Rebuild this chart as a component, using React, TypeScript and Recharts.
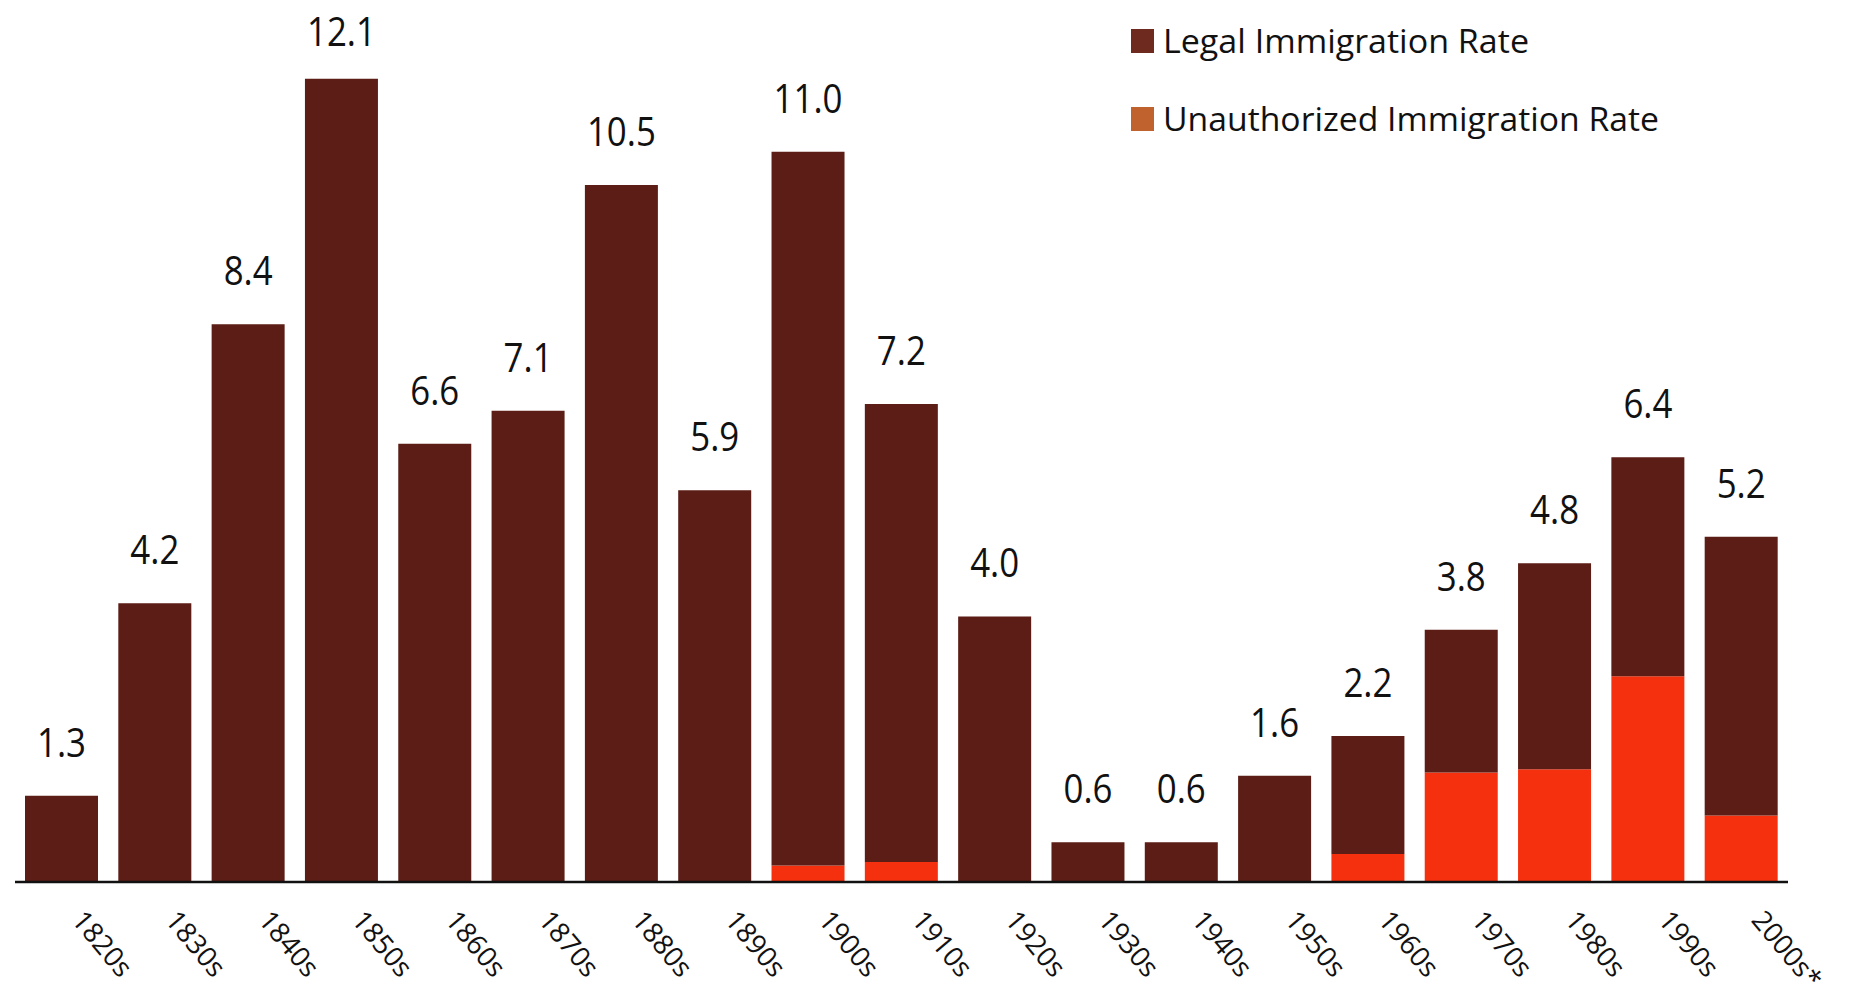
import React from 'react';
import { BarChart, Bar, XAxis, YAxis, LabelList, Legend } from 'recharts';

const decades = [
  '1820s', '1830s', '1840s', '1850s', '1860s', '1870s', '1880s', '1890s', '1900s', '1910s',
  '1920s', '1930s', '1940s', '1950s', '1960s', '1970s', '1980s', '1990s', '2000s*',
];
const totalRate = [1.3, 4.2, 8.4, 12.1, 6.6, 7.1, 10.5, 5.9, 11.0, 7.2, 4.0, 0.6, 0.6, 1.6, 2.2, 3.8, 4.8, 6.4, 5.2];
const unauthorizedRate = [0, 0, 0, 0, 0, 0, 0, 0, 0.25, 0.3, 0, 0, 0, 0, 0.42, 1.65, 1.7, 3.1, 1.0];
const legendLabels = ['Legal Immigration Rate', 'Unauthorized Immigration Rate'];

const data = decades.map((d, i) => ({
  decade: d,
  total: totalRate[i],
  unauthorized: unauthorizedRate[i],
  legal: +(totalRate[i] - unauthorizedRate[i]).toFixed(2),
}));

const BROWN = '#5b1d15';
const RED = '#f5300e';
const LEGEND_COLORS = ['#6e2a1e', '#c0622e'];
const FONT = '"Open Sans", "DejaVu Sans", sans-serif';

const ValueLabel = (props: any) => {
  const { x, y, width, index } = props;
  const cx = Number(x) + Number(width) / 2;
  const by = Math.max(Number(y) - 39, 46);
  return (
    <text
      transform={`translate(${cx},${by}) scale(0.85,1)`}
      textAnchor="middle"
      fontFamily={FONT}
      fontSize={41}
      fill="#111"
    >
      {totalRate[index].toFixed(1)}
    </text>
  );
};

const DecadeTick = (props: any) => {
  const { x, payload } = props;
  return (
    <text
      transform={`translate(${Number(x) + 17},914) rotate(50)`}
      textAnchor="start"
      dominantBaseline="central"
      fontFamily={FONT}
      fontSize={27.5}
      fill="#111"
    >
      {payload.value}
    </text>
  );
};

const LegendContent = () => (
  <svg width={1851} height={160} style={{ display: 'block' }}>
    <rect x={1131} y={29} width={23} height={24} fill={LEGEND_COLORS[0]} />
    <text x={1163} y={53} fontFamily={FONT} fontSize={33} fill="#111" textLength={366} lengthAdjust="spacingAndGlyphs">
      {legendLabels[0]}
    </text>
    <rect x={1131} y={107} width={23} height={24} fill={LEGEND_COLORS[1]} />
    <text x={1163} y={131} fontFamily={FONT} fontSize={33} fill="#111" textLength={496} lengthAdjust="spacingAndGlyphs">
      {legendLabels[1]}
    </text>
  </svg>
);

export default function App() {
  return (
    <div style={{ position: 'absolute', left: 0, top: 0, width: 1851, height: 999, background: '#fff' }}>
      <BarChart
        width={1851}
        height={999}
        data={data}
        margin={{ top: 19, right: 63, bottom: 0, left: 15 }}
        barSize={73}
      >
        <XAxis
          dataKey="decade"
          interval={0}
          tickLine={false}
          axisLine={{ stroke: '#111', strokeWidth: 2.5 }}
          height={117}
          tick={<DecadeTick />}
        />
        <YAxis hide domain={[0, 13]} />
        <Legend
          layout="vertical"
          align="center"
          verticalAlign="middle"
          content={<LegendContent />}
          wrapperStyle={{ position: 'absolute', left: 0, top: 0, width: 1851, height: 160 }}
        />
        <Bar dataKey="unauthorized" name={legendLabels[1]} stackId="a" fill={RED} isAnimationActive={false} />
        <Bar dataKey="legal" name={legendLabels[0]} stackId="a" fill={BROWN} isAnimationActive={false}>
          <LabelList dataKey="total" content={<ValueLabel />} />
        </Bar>
      </BarChart>
    </div>
  );
}
